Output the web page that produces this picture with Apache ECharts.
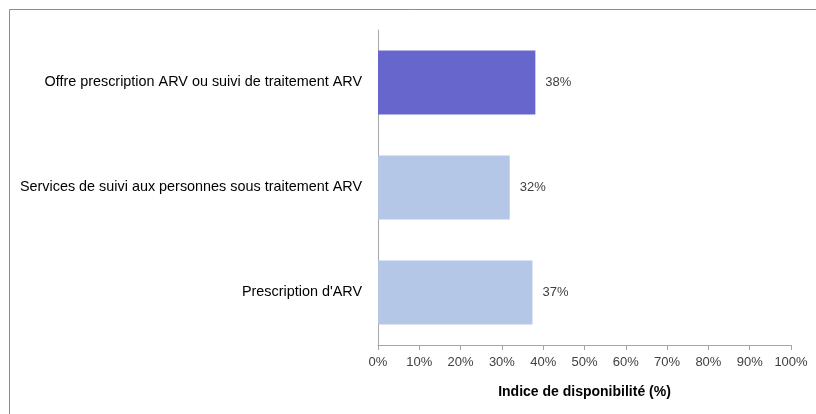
<!DOCTYPE html>
<html>
<head>
<meta charset="utf-8">
<script src="https://cdn.jsdelivr.net/npm/echarts@6/dist/echarts.min.js"></script>
<style>
  html, body { margin: 0; padding: 0; background: #fff; }
  #chart { width: 816px; height: 414px; }
</style>
</head>
<body>
<div id="chart"></div>
<script>
// categories, top to bottom
const categories = [
  "Offre prescription ARV ou suivi de traitement ARV",
  "Services de suivi aux personnes sous traitement ARV",
  "Prescription d'ARV"
]
const values = [38.1, 31.9, 37.4]
const barColors = ["#6666CC", "#B4C7E7", "#B4C7E7"]
const xTicks = [0, 10, 20, 30, 40, 50, 60, 70, 80, 90, 100]

const font = "'Liberation Sans', Arial, sans-serif"

const chart = echarts.init(document.getElementById("chart"))

chart.setOption({
  animation: false,
  backgroundColor: "#fff",
  textStyle: { fontFamily: font },
  graphic: [
    {
      type: "rect",
      shape: { x: 9.5, y: 9.5, width: 900, height: 500 },
      style: { fill: "none", stroke: "#8c8c8c", lineWidth: 1 },
      silent: true
    }
  ],
  grid: { left: 378, right: 25, top: 30, bottom: 69 },
  xAxis: {
    type: "value",
    min: xTicks[0],
    max: xTicks[xTicks.length - 1],
    interval: 10,
    splitLine: { show: false },
    axisLine: { show: true, lineStyle: { color: "#a6a6a6" } },
    axisTick: { show: true, length: 5, lineStyle: { color: "#a6a6a6" } },
    axisLabel: {
      formatter: (v) => v + "%",
      color: "#404040",
      fontSize: 13,
      margin: 11,
      fontFamily: font
    },
    name: "Indice de disponibilité (%)",
    nameLocation: "middle",
    nameGap: 40,
    nameTextStyle: {
      color: "#000",
      fontWeight: "bold",
      fontSize: 14,
      fontFamily: font
    }
  },
  yAxis: {
    type: "category",
    data: categories,
    inverse: true,
    axisLine: { show: true, lineStyle: { color: "#a6a6a6" } },
    axisTick: { show: false },
    axisLabel: {
      color: "#000",
      fontSize: 14.4,
      margin: 16,
      fontFamily: font
    }
  },
  series: [
    {
      type: "bar",
      barWidth: 64,
      data: values.map((v, i) => ({ value: v, itemStyle: { color: barColors[i] } })),
      label: {
        show: true,
        position: "right",
        distance: 10,
        color: "#404040",
        fontSize: 13,
        fontFamily: font,
        formatter: (p) => Math.round(p.value) + "%"
      }
    }
  ]
})
</script>
</body>
</html>
